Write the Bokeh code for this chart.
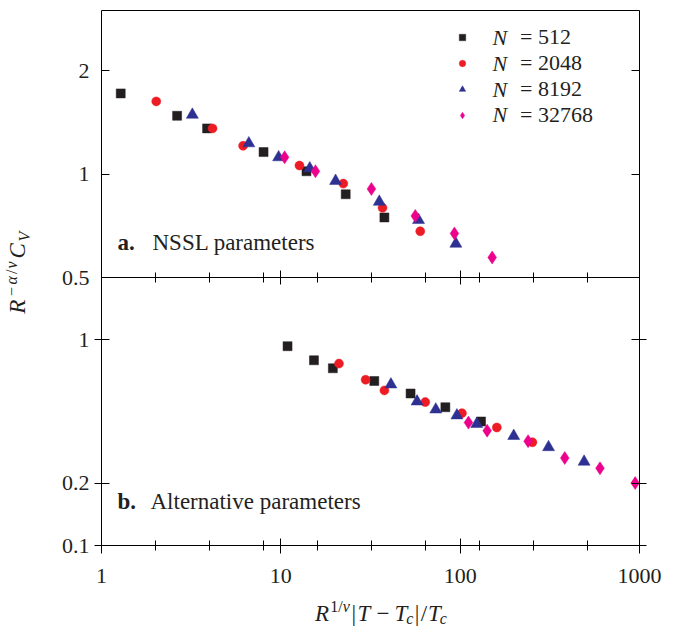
import math
from bokeh.plotting import figure
from bokeh.models import (LogAxis, FixedTicker, Range1d, Label, Legend, LegendItem,
                          ColumnDataSource)
from bokeh.layouts import row, column
from bokeh.embed import file_html
from bokeh.resources import INLINE

FONT = "Liberation Serif"
FS = "22px"
TXT = "#231f20"

# ---------------- data ----------------
# panel a: NSSL parameters
a_512_x = [1.28, 2.64, 3.88, 8.01, 13.9, 23.0, 37.8]
a_512_y = [1.72, 1.48, 1.36, 1.16, 1.02, 0.874, 0.748]
a_2048_x = [2.02, 4.16, 6.16, 12.7, 22.3, 36.9, 59.9]
a_2048_y = [1.63, 1.36, 1.21, 1.06, 0.939, 0.798, 0.682]
a_8192_x = [3.21, 6.63, 9.72, 14.5, 20.2, 35.4, 58.6, 94.6]
a_8192_y = [1.49, 1.23, 1.12, 1.04, 0.956, 0.831, 0.735, 0.627]
a_32768_x = [10.5, 15.6, 32.0, 56.2, 92.9, 150.8]
a_32768_y = [1.12, 1.02, 0.906, 0.756, 0.672, 0.572]

# panel b: alternative parameters
b_512_x = [10.9, 15.3, 19.5, 33.2, 52.9, 82.7, 130.7]
b_512_y = [0.928, 0.793, 0.725, 0.629, 0.547, 0.469, 0.400]
b_2048_x = [21.1, 29.7, 37.8, 63.9, 102.3, 160.1, 252.8]
b_2048_y = [0.764, 0.638, 0.566, 0.497, 0.439, 0.374, 0.317]
b_8192_x = [41.1, 57.5, 73.1, 95.9, 123.7, 198.9, 311.0, 491.0]
b_8192_y = [0.605, 0.500, 0.457, 0.428, 0.389, 0.340, 0.300, 0.255]
b_32768_x = [111.2, 141.4, 239.2, 383.0, 602.0, 946.0]
b_32768_y = [0.395, 0.361, 0.321, 0.266, 0.237, 0.201]

series_names = ["512", "2048", "8192", "32768"]
x_major = [1, 10, 100, 1000]
x_minor = [2, 4, 8, 16, 32, 64, 128, 256, 512]
x_labels = ["1", "10", "100", "1000"]
a_yticks = [0.5, 1, 2]
a_ylabels = ["0.5", "1", "2"]
b_yticks = [0.1, 0.2, 1]
b_ylabels = ["0.1", "0.2", "1"]
a_range = (0.5, 3.0)
b_range = (0.1, 2.0)

styles = [("square", 9, "#231f20"), ("circle", 9, "#ed1c24"),
          ("triangle", 12, "#2e3192"), ("diamond", 13, "#ec008c")]

a_data = [(a_512_x, a_512_y), (a_2048_x, a_2048_y), (a_8192_x, a_8192_y), (a_32768_x, a_32768_y)]
b_data = [(b_512_x, b_512_y), (b_2048_x, b_2048_y), (b_8192_x, b_8192_y), (b_32768_x, b_32768_y)]


def add_axis(p, side, ticks, minor, labels, show, tin, tout, mtin, mtout, standoff, line=True):
    ax = LogAxis(ticker=FixedTicker(ticks=ticks, minor_ticks=minor),
                 major_label_overrides={float(t): (l if show else "") for t, l in zip(ticks, labels)},
                 axis_line_color="black" if line else None, axis_line_width=1,
                 major_tick_line_color="black", minor_tick_line_color="black",
                 major_tick_in=tin, major_tick_out=tout,
                 minor_tick_in=mtin, minor_tick_out=mtout,
                 major_label_standoff=standoff,
                 major_label_text_font=FONT,
                 major_label_text_font_size=FS if show else "0px",
                 major_label_text_color=TXT)
    p.add_layout(ax, side)
    return ax


def panel(height, yr, top_border, bottom_border, outline):
    p = figure(width=625, height=height, x_axis_type="log", y_axis_type="log",
               x_range=Range1d(1, 1000), y_range=Range1d(*yr), title=None,
               x_axis_location=None, y_axis_location=None,
               min_border_left=53, min_border_right=34,
               min_border_top=top_border, min_border_bottom=bottom_border,
               output_backend="svg", toolbar_location=None,
               outline_line_color="black" if outline else None, outline_line_width=1,
               background_fill_color="white", border_fill_color="white")
    p.grid.visible = False
    return p


# ---------------- top panel ----------------
top = panel(290, a_range, 10, 13, False)
add_axis(top, "above", [], [], [], False, 0, 0, 0, 0, 0)
add_axis(top, "below", x_major, x_minor, x_labels, False, 7, 0, 5, 0, 0, line=False)
add_axis(top, "left", a_yticks, [], a_ylabels, True, 8, 0, 0, 0, 12)
add_axis(top, "right", a_yticks, [], a_ylabels, False, 8, 0, 0, 0, 0)

renderers = []
for (xs, ys), (mk, sz, col) in zip(a_data, styles):
    src = ColumnDataSource(dict(x=xs, y=ys))
    r = top.scatter("x", "y", source=src, marker=mk, size=sz,
                    fill_color=col, line_color=col, line_width=0.5)
    renderers.append(r)

ROW0, ROWH, ITEMH = 36.7, 25.9, 27.0
for k, (n, r) in enumerate(zip(series_names, renderers)):
    cy = ROW0 + ROWH * k
    lg = Legend(items=[LegendItem(label="= " + n, renderers=[r])],
                location=(353, 277 - cy - ITEMH / 2),
                padding=0, margin=0, spacing=0,
                glyph_width=16, glyph_height=22, label_height=22, label_standoff=50,
                label_text_font=FONT, label_text_font_size=FS, label_text_color=TXT,
                border_line_color=None, background_fill_alpha=0)
    top.add_layout(lg)
    top.add_layout(Label(x=391, y=277 - cy, x_units="screen", y_units="screen",
                         text="N", text_font=FONT, text_font_style="italic",
                         text_font_size=FS, text_baseline="middle", text_color=TXT))

PFS = "23px"
top.add_layout(Label(x=16, y=35, x_units="screen", y_units="screen", text="a.",
                     text_font=FONT, text_font_style="bold", text_font_size=PFS,
                     text_baseline="middle", text_color=TXT))
top.add_layout(Label(x=51, y=35, x_units="screen", y_units="screen", text="NSSL parameters",
                     text_font=FONT, text_font_size=PFS, text_baseline="middle", text_color=TXT))

# ---------------- bottom panel ----------------
bot = panel(318, b_range, 0, 50, True)
bot.border_fill_alpha = 0
bot.margin = (-13, 0, 0, 0)
add_axis(bot, "above", x_major, x_minor, x_labels, False, 7, 0, 5, 0, 0)
add_axis(bot, "below", x_major, x_minor, x_labels, True, 7, 8, 5, 5, 15)
add_axis(bot, "left", b_yticks, [], b_ylabels, True, 8, 7, 0, 0, 5)
add_axis(bot, "right", b_yticks, [], b_ylabels, False, 8, 7, 0, 0, 0)

for (xs, ys), (mk, sz, col) in zip(b_data, styles):
    src = ColumnDataSource(dict(x=xs, y=ys))
    bot.scatter("x", "y", source=src, marker=mk, size=sz,
                fill_color=col, line_color=col, line_width=0.5)

bot.add_layout(Label(x=16, y=44, x_units="screen", y_units="screen", text="b.",
                     text_font=FONT, text_font_style="bold", text_font_size=PFS,
                     text_baseline="middle", text_color=TXT))
bot.add_layout(Label(x=49, y=44, x_units="screen", y_units="screen", text="Alternative parameters",
                     text_font=FONT, text_font_size=PFS, text_baseline="middle", text_color=TXT))


# ---------------- composite axis labels ----------------
def strip(w, h, xr, yr):
    f = figure(width=w, height=h, x_range=Range1d(*xr), y_range=Range1d(*yr), title=None,
               x_axis_location=None, y_axis_location=None,
               min_border=0, min_border_left=0, min_border_right=0,
               min_border_top=0, min_border_bottom=0,
               output_backend="svg", toolbar_location=None, outline_line_color=None,
               background_fill_color="white", border_fill_color="white")
    f.grid.visible = False
    return f


def place(f, pieces, start, base, scale, angle=0.0):
    # base = baseline position; pieces drawn with "middle" baseline
    pos = 0.0
    for text, style, size, shift, adv in pieces:
        if text:
            mid = base - shift - 0.3375 * size
            if angle == 0.0:
                x, y = start + pos * scale, mid
            else:
                x, y = mid, start - pos * scale
            f.add_layout(Label(x=x, y=y, text=text, text_font=FONT, text_font_style=style,
                               text_font_size=f"{size}px", text_baseline="middle",
                               text_align="left", angle=angle, text_color=TXT))
        pos += adv


x_pieces = [("R", "italic", 23, 0, 15.6), ("1", "normal", 16, 9, 8.0),
            ("/", "normal", 16, 9, 4.6), ("ν", "italic", 16, 9, 8.8),
            ("|", "normal", 23, 0, 6.1), ("T", "italic", 23, 0, 13.8),
            ("", "normal", 0, 0, 5.3), ("−", "normal", 23, 0, 13.0),
            ("", "normal", 0, 0, 5.3), ("T", "italic", 23, 0, 11.8),
            ("c", "italic", 16, -3, 8.6), ("|", "normal", 23, 0, 6.0),
            ("/", "normal", 23, 0, 7.4), ("T", "italic", 23, 0, 11.8),
            ("c", "italic", 16, -3, 7.1)]
y_pieces = [("R", "italic", 23, 0, 15.6), ("−", "normal", 16, 9, 10.0),
            ("α", "italic", 16, 9, 9.0), ("/", "normal", 16, 9, 4.9),
            ("ν", "italic", 16, 9, 8.7), ("C", "italic", 23, 0, 14.8),
            ("V", "italic", 16, -4, 9.8)]

XS = 1.15
x_total = sum(p[4] for p in x_pieces) * XS
xlab = strip(625, 34, (48, 673), (629, 595))
place(xlab, x_pieces, 372.5 - x_total / 2, 620.5, XS)

YS = 1.15
y_total = sum(p[4] for p in y_pieces) * YS
ylab = strip(48, 629, (0, 48), (629, 0))
place(ylab, y_pieces, 271.5 + y_total / 2, 25, YS, angle=math.pi / 2)

layout = row(ylab, column(top, bot, xlab, spacing=0), spacing=0)

open("out.html", "w").write(file_html(layout, INLINE))
